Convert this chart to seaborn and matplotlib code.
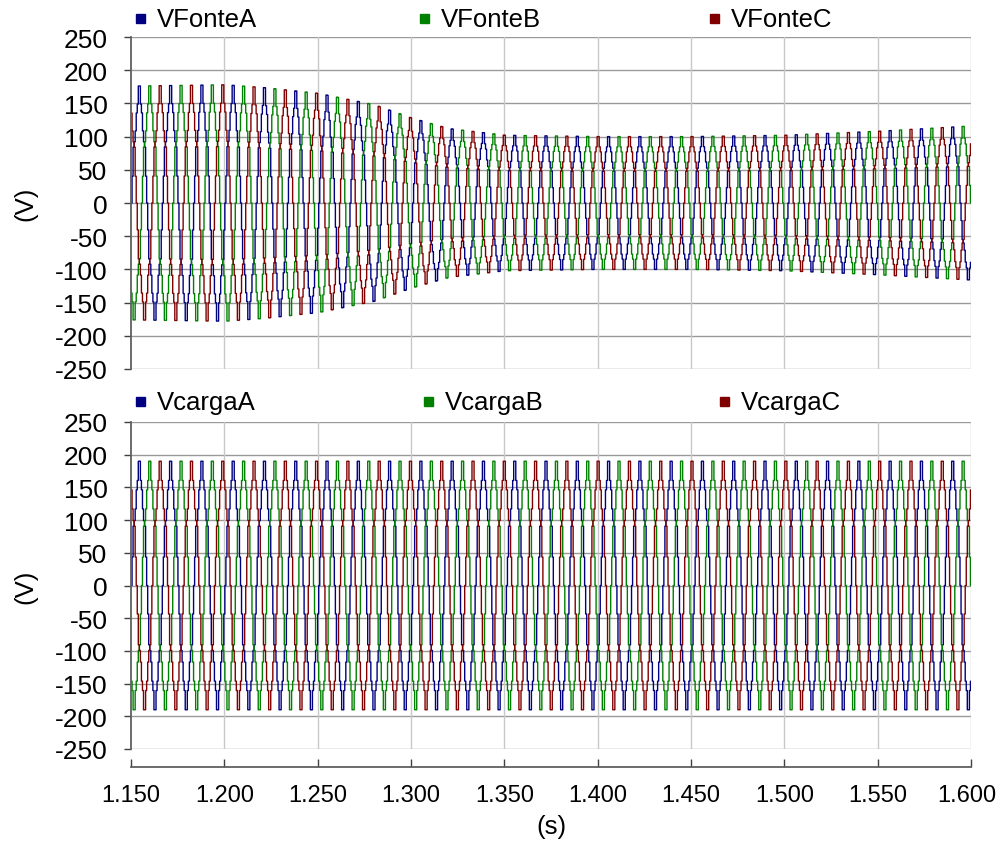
import numpy as np
import pandas as pd
import matplotlib
matplotlib.use("Agg")
import matplotlib.pyplot as plt
import matplotlib.transforms as mtrans
import seaborn as sns

# ---- data ----
t_start, t_end = 1.150, 1.600
freq_hz = 59.67                       # fundamental (≈27 cycles in 0.45 s)
steps_per_cycle = 30                  # staircase resolution of the waveform
phases = ["A", "B", "C"]
phase_shift_deg = [0, -120, 120]

# peak-amplitude envelope of the source voltages (top panel)
env_top_t = [1.150, 1.200, 1.220, 1.250, 1.280, 1.300, 1.320, 1.350, 1.400, 1.450, 1.500, 1.550, 1.600]
env_top_v = [176, 178, 174, 165, 148, 128, 112, 102, 100, 100, 102, 108, 116]
# peak-amplitude envelope of the load voltages (bottom panel)
env_bot_t = [1.150, 1.600]
env_bot_v = [190, 190]

top_labels = ["VFonteA", "VFonteB", "VFonteC"]
bot_labels = ["VcargaA", "VcargaB", "VcargaC"]
colors = ["#000080", "#008000", "#800000"]

yticks = [250, 200, 150, 100, 50, 0, -50, -100, -150, -200, -250]
xticks = [1.150, 1.200, 1.250, 1.300, 1.350, 1.400, 1.450, 1.500, 1.550, 1.600]
xtick_labels = ["1.150", "1.200", "1.250", "1.300", "1.350", "1.400", "1.450", "1.500", "1.550", "1.600"]


def build_frame(env_t, env_v, names):
    t = np.arange(t_start, t_end + 1e-9, 1.0 / (freq_hz * steps_per_cycle))
    amp = np.interp(t, env_t, env_v)
    rows = []
    for name, sh in zip(names, phase_shift_deg):
        th = 2 * np.pi * freq_hz * (t - t_start) + np.deg2rad(sh)
        shape = np.sin(th) + 0.08 * np.sin(5 * th) - 0.04 * np.sin(11 * th)
        v = amp * shape / 1.08
        rows.append(pd.DataFrame({"t": t, "v": v, "phase": name}))
    return pd.concat(rows, ignore_index=True)


df_top = build_frame(env_top_t, env_top_v, top_labels)
df_bot = build_frame(env_bot_t, env_bot_v, bot_labels)

sns.set_theme(style="white")
plt.rcParams["font.family"] = ["Liberation Sans", "DejaVu Sans"]
plt.rcParams["text.color"] = "black"
plt.rcParams["xtick.color"] = "black"
plt.rcParams["ytick.color"] = "black"
plt.rcParams["axes.labelcolor"] = "black"

W, H = 999, 845
fig = plt.figure(figsize=(W / 100, H / 100), dpi=100)
L, R = 131 / W, 971 / W
ax1 = fig.add_axes([L, 1 - 370 / H, R - L, (370 - 38) / H])
ax2 = fig.add_axes([L, 1 - 750 / H, R - L, (750 - 423) / H])

fs = 19
fs_x = 17
fs_leg = 18.5
for ax, df, labels, lab_x, lab_y in [
    (ax1, df_top, top_labels, [140, 424, 714], 20),
    (ax2, df_bot, bot_labels, [140, 428, 724], 403),
]:
    sns.lineplot(data=df, x="t", y="v", hue="phase", hue_order=labels,
                 palette=colors, estimator=None, drawstyle="steps-post",
                 lw=1.0, legend=False, ax=ax)
    ax.set_xlim(t_start, t_end)
    ax.set_ylim(-250, 250)
    ax.set_yticks(yticks)
    ax.set_yticklabels([str(v) for v in yticks], fontsize=fs)
    ax.set_xticks(xticks)
    ax.set_ylabel("(V)", fontsize=fs_leg)
    ax.yaxis.set_label_coords(-0.111, 0.5)
    ax.grid(False)
    for y in yticks:
        ax.axhline(y, color="#9a9a9a", lw=1.0, zorder=0)
    for x in xticks[1:]:
        ax.axvline(x, color="#c8c8c8", lw=1.0, zorder=0)
    for s in ["top", "right"]:
        ax.spines[s].set_visible(False)
    ax.spines["left"].set_color("#606060")
    ax.spines["left"].set_linewidth(1.3)
    ax.tick_params(axis="y", length=5, width=1, color="#404040", direction="out", pad=12, left=True)
    # legend entries
    for lx, name, c in zip(lab_x, labels, colors):
        fig.patches.append(plt.Rectangle(((lx - 4) / W, 1 - (lab_y + 4) / H), 9 / W, 9 / H,
                                         transform=fig.transFigure, color=c, figure=fig))
        fig.text((lx + 17) / W, 1 - lab_y / H, name, fontsize=fs_leg, ha="left", va="center")

ax1.spines["bottom"].set_visible(False)
ax1.tick_params(axis="x", bottom=False, labelbottom=False)
ax1.set_xlabel("")

ax2.spines["bottom"].set_position(("outward", 13))
ax2.spines["bottom"].set_color("#606060")
ax2.spines["bottom"].set_linewidth(1.3)
ax2.set_xticklabels(xtick_labels, fontsize=fs_x)
ax2.tick_params(axis="x", length=6, width=1, color="#404040", direction="in", pad=12, bottom=True)
ax2.set_xlabel("(s)", fontsize=fs_leg, labelpad=6)
# keep the last tick label inside the canvas
last = ax2.get_xticklabels()[-1]
last.set_transform(last.get_transform() + mtrans.ScaledTranslation(-4 / 100, 0, fig.dpi_scale_trans))

fig.savefig("out.png", dpi=100)
